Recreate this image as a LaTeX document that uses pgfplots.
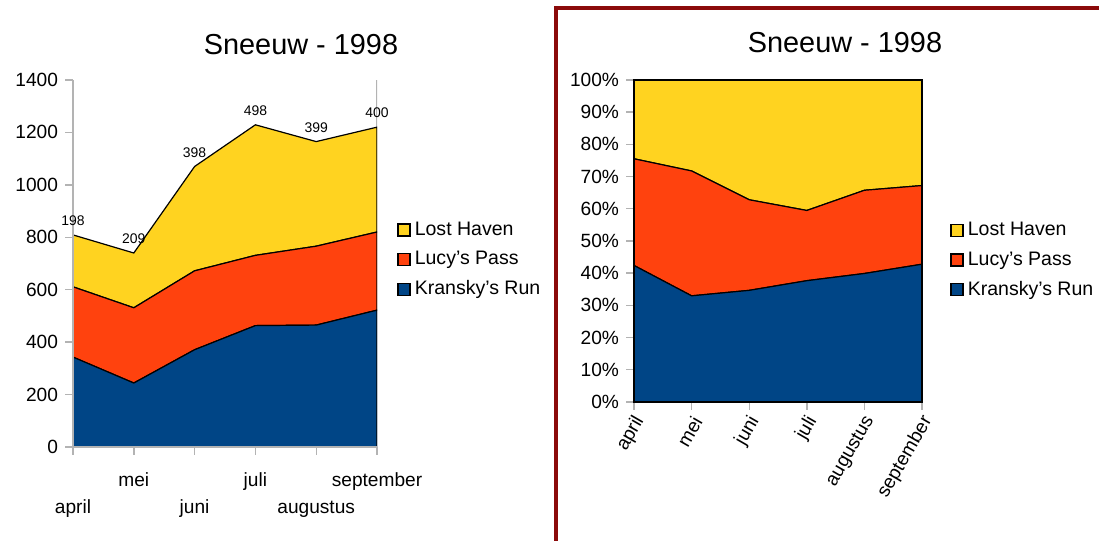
\documentclass[border=0pt]{standalone}
\usepackage{pgfplots}
\pgfplotsset{compat=1.18}
\usepackage{fontspec}
\setmainfont{Liberation Sans}
\definecolor{ooblue}{HTML}{004586}
\definecolor{oored}{HTML}{FF420E}
\definecolor{ooyellow}{HTML}{FFD320}
\definecolor{frameRed}{HTML}{8B0A0A}
\definecolor{axgray}{HTML}{B3B3B3}

\pgfplotsset{
 oostyle/.style={
  scale only axis,
  xmin=0,xmax=5,
  xtick={0,...,5},
  xtick pos=bottom, ytick pos=left,
  stack plots=y,
  area style,
  tick style={axgray, line width=0.7bp},
  tick align=outside,
  major tick length=4bp,
  tick label style={font=\fontsize{9.6}{11}\selectfont},
  /pgf/number format/assume math mode=true,
  /pgf/number format/1000 sep={},
  legend cell align=left,
  reverse legend,
  legend style={draw=none, fill=none, font=\fontsize{9.8}{11}\selectfont, row sep=2.5bp, inner sep=0pt},
  legend image code/.code={\draw[#1,draw=black,line width=0.7bp] (0bp,-3bp) rectangle (6bp,3bp);},
 }
}

\begin{document}
\begin{tikzpicture}[x=0.5bp,y=0.5bp]
\useasboundingbox (0,0) rectangle (1099,541);
\fill[white] (0,0) rectangle (1099,541);

% ---------- left chart ----------
\node[font=\fontsize{14.5}{17}\selectfont] at (301,496) {Sneeuw - 1998};
\begin{axis}[oostyle,
  at={(36.5bp,47bp)}, anchor=south west,
  width=152bp, height=183.5bp,
  ymin=0, ymax=1400, ytick={0,200,...,1400},
  axis x line*=bottom, axis y line*=left,
  axis line style={axgray, line width=0.7bp},
  xticklabels={{\mbox{}\\[7bp]april},{mei},{\mbox{}\\[7bp]juni},{juli},{\mbox{}\\[7bp]augustus},{september}},
  xticklabel style={align=center, font=\fontsize{9.6}{13.5}\selectfont, yshift=-5.5bp},
  legend style={at={(1,0.51)}, anchor=west, xshift=10bp},
]
\addplot[fill=ooblue, draw=black, line width=0.6bp] coordinates {(0,343) (1,244) (2,371) (3,463) (4,465) (5,522)} \closedcycle;
\addlegendentry{Kransky's Run}
\addplot[fill=oored, draw=black, line width=0.6bp] coordinates {(0,268) (1,287) (2,301) (3,268) (4,301) (5,298)} \closedcycle;
\addlegendentry{Lucy's Pass}
\addplot[fill=ooyellow, draw=black, line width=0.6bp,
  point meta=explicit symbolic, nodes near coords,
  nodes near coords style={font=\fontsize{7}{8}\selectfont, anchor=south, yshift=1bp, text=black}]
  coordinates {(0,198)[198] (1,209)[209] (2,398)[398] (3,498)[498] (4,399)[399] (5,400)[400]} \closedcycle;
\addlegendentry{Lost Haven}
\draw[axgray, line width=0.7bp] (rel axis cs:1,0) -- (rel axis cs:1,1);
\end{axis}

% ---------- right chart ----------
\draw[frameRed, line width=2bp] (556,-10) -- (556,533) -- (1110,533);
\node[font=\fontsize{14.5}{17}\selectfont] at (845,498) {Sneeuw - 1998};
\begin{axis}[oostyle,
  at={(317bp,69.5bp)}, anchor=south west,
  width=144bp, height=161bp,
  ymin=0, ymax=100, ytick={0,10,...,100},
  axis line style={black, line width=0.7bp},
  yticklabel={\pgfmathprintnumber{\tick}\%},
  xticklabels={april,mei,juni,juli,augustus,september},
  xticklabel style={rotate=60, anchor=east, font=\fontsize{9.6}{11}\selectfont, xshift=1.5bp, yshift=-4.5bp},
  legend style={at={(1,0.44)}, anchor=west, xshift=14bp},
]
\addplot[fill=ooblue, draw=black, line width=0.6bp] coordinates {(0,42.40) (1,32.97) (2,34.67) (3,37.67) (4,39.91) (5,42.79)} \closedcycle;
\addlegendentry{Kransky's Run}
\addplot[fill=oored, draw=black, line width=0.6bp] coordinates {(0,33.13) (1,38.78) (2,28.13) (3,21.81) (4,25.84) (5,24.43)} \closedcycle;
\addlegendentry{Lucy's Pass}
\addplot[fill=ooyellow, draw=black, line width=0.6bp] coordinates {(0,24.47) (1,28.25) (2,37.20) (3,40.52) (4,34.25) (5,32.78)} \closedcycle;
\addlegendentry{Lost Haven}
\end{axis}
\end{tikzpicture}
\end{document}
